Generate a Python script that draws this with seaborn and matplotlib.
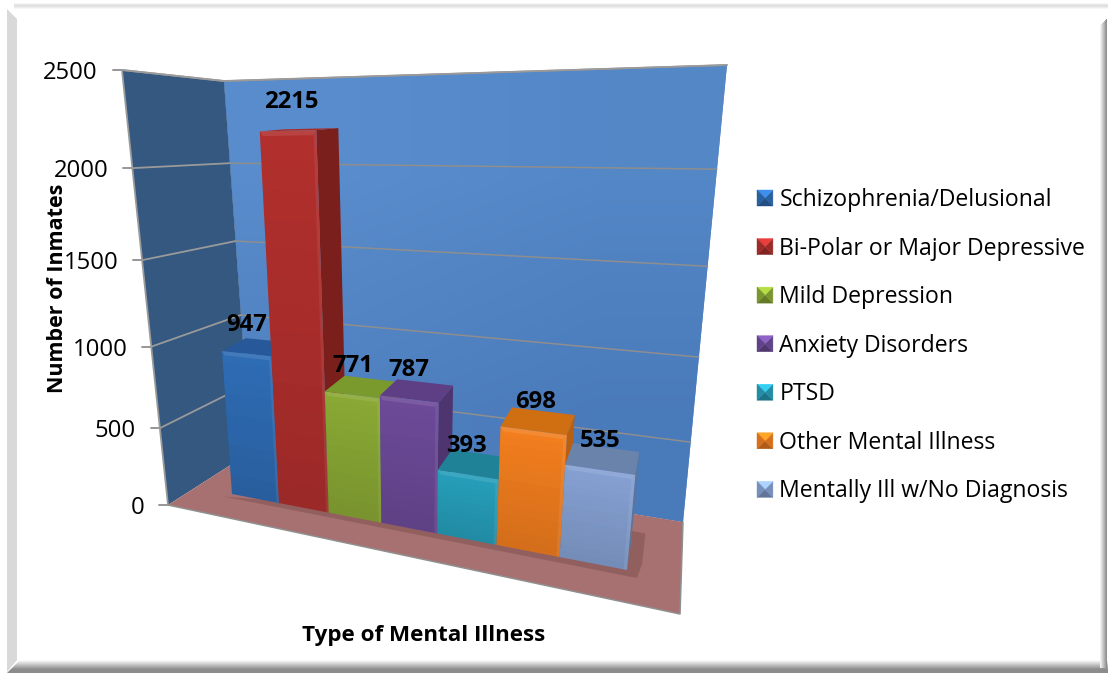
import numpy as np
import pandas as pd
import matplotlib
matplotlib.use("Agg")
import matplotlib.pyplot as plt
import seaborn as sns
from matplotlib.legend_handler import HandlerBase
from matplotlib.patches import Patch, Polygon, Rectangle
from matplotlib.transforms import Transform

categories = ["Schizophrenia/Delusional", "Bi-Polar or Major Depressive", "Mild Depression",
              "Anxiety Disorders", "PTSD", "Other Mental Illness", "Mentally Ill w/No Diagnosis"]
inmates = [947, 2215, 771, 787, 393, 698, 535]
y_ticks = [0, 500, 1000, 1500, 2000, 2500]

front_colors = ["#2F6DB6", "#B3302E", "#8BAA35", "#6E4B9A", "#27A0BC", "#F47F1F", "#86A2D4"]
side_colors = ["#24548C", "#7A1F1C", "#647F27", "#4E3570", "#1C7488", "#B95F12", "#5F7496"]
top_colors = ["#27599A", "#A52B29", "#7A9A2E", "#5E3F85", "#1F8296", "#D06E12", "#6A83AB"]
label_dx = [0, 4, 1, 0, -1, 2, 1]

FONT = "Open Sans"
W, H = 1108, 673


def project(u, v, t=0.0):
    # bar space -> pixels, t=0 is the front of the bars and t=1 the back
    u, v, t = np.asarray(u, float), np.asarray(v, float), np.asarray(t, float)
    w = 1 - 0.0271 * u - 5.6e-5 * v + 0.05 * t
    x = (232 + 39.44 * u - 0.0230 * v + 35 * t) / w
    y = (494 - 4.59 * u - 0.1706 * v + 4.7 * t) / w
    return np.column_stack([x, y])


class BarPlane(Transform):
    input_dims = output_dims = 2

    def transform_non_affine(self, xy):
        xy = np.asarray(xy, float)
        return project(xy[:, 0] + 0.5, xy[:, 1])


def wall_point(q, s, v):
    # unit square -> quad, used for the wall gridlines
    (x0, y0), (x1, y1), (x2, y2), (x3, y3) = q
    dx1, dx2, sx = x1 - x2, x3 - x2, x0 - x1 + x2 - x3
    dy1, dy2, sy = y1 - y2, y3 - y2, y0 - y1 + y2 - y3
    det = dx1 * dy2 - dx2 * dy1
    g = (sx * dy2 - dx2 * sy) / det
    h = (dx1 * sy - sx * dy1) / det
    w = 1 + g * s + h * v
    return ((x0 + (x1 - x0 + g * x1) * s + (x3 - x0 + h * x3) * v) / w,
            (y0 + (y1 - y0 + g * y1) * s + (y3 - y0 + h * y3) * v) / w)


class BevelHandler(HandlerBase):
    def create_artists(self, legend, orig, xd, yd, width, height, fontsize, trans):
        c = np.array(matplotlib.colors.to_rgb(orig.get_facecolor()))
        box = [(0, 0), (width, 0), (width, height), (0, height)]
        mid = (width / 2, height / 2)
        shades = [0.72, 0.88, 1.3, 0.88]  # bottom, right, top, left
        out = []
        for i, k in enumerate(shades):
            tri = [box[i], box[(i + 1) % 4], mid]
            out.append(Polygon(tri, facecolor=np.clip(c * k, 0, 1), edgecolor=np.clip(c * k, 0, 1),
                               lw=0.3, transform=trans))
        return out


sns.set_theme(style="white")
plt.rcParams["font.family"] = [FONT, "DejaVu Sans"]

fig = plt.figure(figsize=(W / 100, H / 100), dpi=100, facecolor="white")
bg = fig.add_axes([0, 0, 1, 1], zorder=0)
bg.set_xlim(0, W)
bg.set_ylim(H, 0)
bg.axis("off")
ax = fig.add_axes([0, 0, 1, 1], zorder=1)
ax.patch.set_alpha(0)

# picture frame
for i, g in enumerate([0.96, 0.91, 0.87, 0.89, 0.93, 0.97]):
    bg.add_patch(Rectangle((14, 3 + i), W - 14, 1.1, color=(g, g, g), lw=0))
bg.add_patch(Polygon([(7, 9), (17, 19), (17, 660), (7, 672)], color="#D9D9D9", lw=0))
for i in range(9):
    g = 0.98 - 0.05 * i
    bg.add_patch(Polygon([(20 - i, 660 + i), (W, 660 + i), (W, 661.2 + i), (19 - i, 661.2 + i)],
                         color=(g, g, g), lw=0))
bg.add_patch(Polygon([(11, 669), (W, 669), (W, H), (7, H)], color="#8C8C8C", lw=0))
for i in range(7):
    g = 0.95 - 0.065 * i
    bg.add_patch(Polygon([(1100 + i, 25 - i), (1101.2 + i, 25 - i), (1101.2 + i, 668), (1100 + i, 668)],
                         color=(g, g, g), lw=0))

# walls and floor
left_wall = [(168, 505), (251, 452), (224, 81), (122, 70)]
back_wall = [(251, 452), (683, 522), (727, 65), (224, 81)]
floor = [(168, 505), (680, 614), (683, 522), (251, 452)]

left_poly = Polygon(left_wall, facecolor="#34587F", edgecolor="none", zorder=1.1)
bg.add_patch(left_poly)
back_poly = Polygon(back_wall, facecolor="#5485C4", edgecolor="none", zorder=0.9)
bg.add_patch(back_poly)
grad = np.array([[[0.35, 0.55, 0.80], [0.33, 0.53, 0.78]],
                 [[0.31, 0.50, 0.75], [0.29, 0.48, 0.73]]])
im = bg.imshow(grad, extent=(224, 727, 522, 65), aspect="auto", interpolation="bilinear", zorder=1)
im.set_clip_path(back_poly)
bg.set_xlim(0, W)
bg.set_ylim(H, 0)
bg.add_patch(Polygon(floor, facecolor="#A87171", edgecolor="none", zorder=1.2))
edge_kw = dict(color="#9A9A9A", lw=1.3, zorder=1.3)
bg.plot([168, 122, 224, 727], [505, 70, 81, 65], **edge_kw)
bg.plot([168, 680, 683], [505, 614, 522], color="#8F8F8F", lw=1.1, zorder=1.3)

for tick in y_ticks:
    v = tick / y_ticks[-1]
    p0 = wall_point(left_wall, 0, v)
    p1 = wall_point(left_wall, 1, v)
    p2 = wall_point(back_wall, 1, v)
    if tick > 0:
        bg.plot([p0[0], p1[0]], [p0[1], p1[1]], color="#9A9A9A", lw=1.3, zorder=1.15)
        bg.plot([p1[0], p2[0]], [p1[1], p2[1]], color="#8E8E8E", lw=1.1, zorder=1.15)
    bg.plot([p0[0] - 9, p0[0]], [p0[1], p0[1]], color="#969696", lw=1.4, zorder=1.15)
    bg.text(p0[0] - 24, p0[1], str(tick), ha="right", va="center_baseline", fontsize=17.2, color="black", zorder=5)

# shadow on the floor under the bars
shadow = project([-0.2, 7.15, 7.2, 7.2, 6.6], [-30, -35, 0, 100, 100], [0, 0, 0.3, 0.8, 0.8])
bg.add_patch(Polygon(shadow, facecolor="#7E4E4E", alpha=0.5, edgecolor="none", zorder=1.4))

df = pd.DataFrame({"illness": categories, "inmates": inmates})
sns.barplot(data=df, x="illness", y="inmates", hue="illness", palette=front_colors,
            saturation=1, width=1.0, dodge=False, legend=False, ax=ax)
ax.axis("off")

plane = BarPlane() + bg.transData
bands = np.linspace(0, 1, 15)
for i, bar in enumerate(list(ax.patches)):
    u0, u1, val = bar.get_x() + 0.5, bar.get_x() + 0.5 + bar.get_width(), bar.get_height()
    z = 10 + i
    bar.set_transform(plane)
    bar.set_clip_on(False)
    bar.set_linewidth(0)
    bar.set_zorder(z + 0.1)
    # back, side and top faces
    side = project([u1, u1, u1, u1], [0, val, val, 0], [0, 0, 1, 1])
    top = project([u0, u1, u1, u0], [val, val, val, val], [0, 0, 1, 1])
    ax.add_patch(Polygon(side, facecolor=side_colors[i], lw=0, transform=bg.transData, zorder=z))
    ax.add_patch(Polygon(top, facecolor=top_colors[i], lw=0, transform=bg.transData, zorder=z + 0.05))
    # darkening towards the floor
    for k in range(len(bands) - 1):
        b = project([u0, u1, u1, u0], val * np.array([bands[k], bands[k], bands[k + 1], bands[k + 1]]))
        ax.add_patch(Polygon(b, facecolor="black", alpha=0.13 * (1 - bands[k]), lw=0,
                             transform=bg.transData, zorder=z + 0.2))
    # bevel highlights
    bw = 0.05
    dv = 25
    edge_r = project([u1 - bw, u1, u1, u1 - bw], [0, 0, val, val - dv])
    edge_t = project([u0, u1, u1 - bw, u0 + bw], [val, val, val - dv, val - dv])
    ax.add_patch(Polygon(edge_r, facecolor="white", alpha=0.07, lw=0, transform=bg.transData, zorder=z + 0.3))
    ax.add_patch(Polygon(edge_t, facecolor="white", alpha=0.10, lw=0, transform=bg.transData, zorder=z + 0.3))

for i in range(len(inmates)):
    ax.annotate(str(inmates[i]), xy=(i, inmates[i]), xycoords=plane,
                xytext=(label_dx[i] * 0.72, 29 * 0.72), textcoords="offset points",
                ha="center", va="center", fontsize=17.2, fontweight="bold", color="black", zorder=40)

handles = [Patch(facecolor=c, label=n) for c, n in zip(front_colors, categories)]
leg = fig.legend(handles=handles, loc="upper left", bbox_to_anchor=(757 / W, 1 - 188 / H),
                 frameon=False, fontsize=16.6, labelspacing=1.065, handlelength=0.69, handleheight=0.69,
                 handletextpad=0.28, borderpad=0, borderaxespad=0, labelcolor="black",
                 handler_map={Patch: BevelHandler()})
leg.set_zorder(50)

fig.text(58 / W, 1 - 288 / H, "Number of Inmates", rotation=90, ha="center", va="center",
         fontsize=15.5, fontweight="bold", color="black", zorder=60)
fig.text(423.5 / W, 1 - 635 / H, "Type of Mental Illness", ha="center", va="center",
         fontsize=16.1, fontweight="bold", color="black", zorder=60)

fig.savefig("out.png", dpi=100)
